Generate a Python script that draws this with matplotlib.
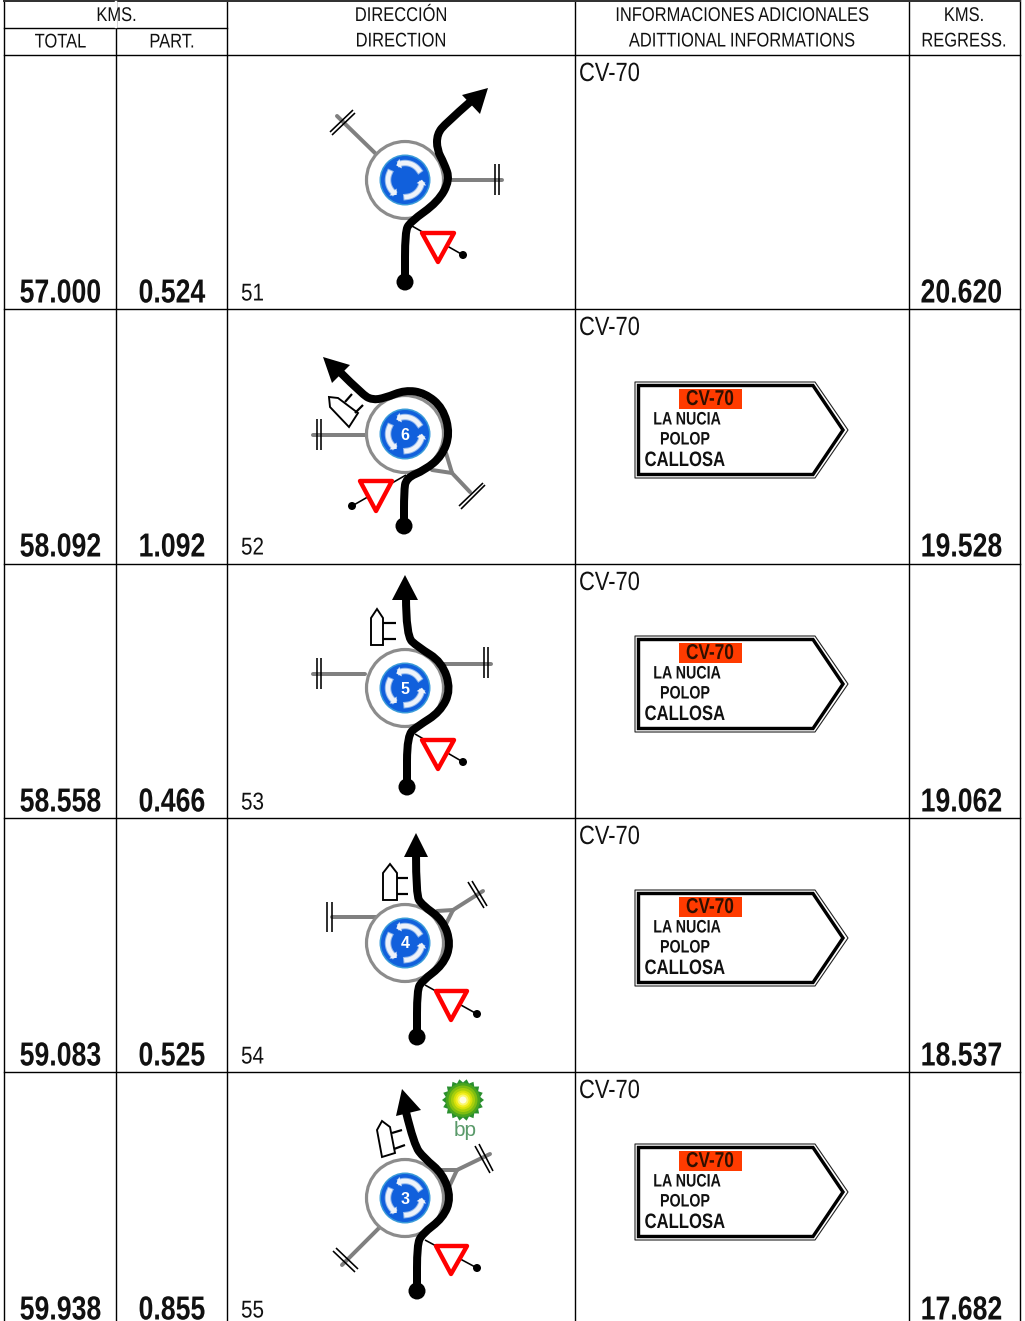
import numpy as np
import matplotlib
matplotlib.use('Agg')
import matplotlib.pyplot as plt
from matplotlib.path import Path
from matplotlib.patches import PathPatch, Circle, Polygon, Rectangle
from matplotlib.patheffects import AbstractPathEffect
from matplotlib.transforms import Affine2D

plt.rcParams['font.family'] = ['Liberation Sans', 'DejaVu Sans']

# Datos
kms_total = ['57.000', '58.092', '58.558', '59.083', '59.938']
kms_part = ['0.524', '1.092', '0.466', '0.525', '0.855']
kms_regress = ['20.620', '19.528', '19.062', '18.537', '17.682']
row_numbers = ['51', '52', '53', '54', '55']
disc_labels = ['', '6', '5', '4', '3']
road_name = 'CV-70'
sign_towns = ['LA NUCIA', 'POLOP', 'CALLOSA']
has_sign = [False, True, True, True, True]
sign_dy = [0, 0, 254, 508, 762]

col_x = [4, 116, 227, 575, 909, 1020]
row_y = [55, 309, 564, 818, 1072]
centers = [(405, 180), (405, 434), (405, 688), (405, 943), (405, 1198)]

# Trayectoria negra de cada glorieta
routes = [
    [(405, 282), (405, 232), (410, 222), (438, 202), (450, 180), (444, 163), (437, 150), (437, 134), (446, 123), (470, 102)],
    [(404, 526), (404, 492), (406, 478), (425, 470), (442, 456), (450, 434), (443, 408), (425, 393), (405, 390), (385, 398), (372, 400), (362, 394), (341, 373)],
    [(407, 787), (407, 735), (418, 726), (440, 712), (451, 690), (442, 662), (418, 647), (406, 636), (406, 596)],
    [(417, 1037), (417, 990), (422, 981), (443, 965), (451, 944), (443, 920), (422, 905), (416, 895), (416, 853)],
    [(417, 1291), (417, 1245), (422, 1234), (443, 1218), (451, 1198), (443, 1174), (424, 1158), (414, 1145), (406, 1112)],
]
arrowheads = [
    [(488, 88), (462, 95), (480, 114)],
    [(323, 357), (350, 365), (332, 383)],
    [(405, 575), (392, 600), (418, 600)],
    [(416, 833), (404, 857), (428, 857)],
    [(402, 1089), (396, 1116), (421, 1110)],
]
# Ramales grises
branches = [
    [[(337, 116), (376, 154)], [(450, 180), (502, 180)]],
    [[(313, 435), (367, 435)], [(470, 492), (452, 473)], [(452, 473), (432, 470)], [(452, 473), (446, 453)]],
    [[(313, 674), (365, 674)], [(443, 664), (491, 664)]],
    [[(332, 917), (377, 917)], [(483, 891), (453, 910)], [(453, 910), (437, 911)], [(453, 910), (445, 926)]],
    [[(342, 1265), (379, 1228)], [(490, 1154), (457, 1170)], [(457, 1170), (440, 1170)], [(457, 1170), (449, 1187)]],
]
# Dobles trazos al final de los ramales
ticks = [
    [[(330, 132), (353, 110)], [(332, 135), (355, 113)], [(495, 164), (495, 195)], [(499, 164), (499, 195)]],
    [[(317, 419), (317, 450)], [(321, 419), (321, 450)], [(459, 506), (483, 483)], [(461, 509), (485, 485)]],
    [[(317, 658), (317, 689)], [(321, 658), (321, 689)], [(484, 647), (484, 678)], [(488, 647), (488, 678)]],
    [[(327, 902), (327, 932)], [(332, 902), (332, 932)], [(468, 882), (484, 908)], [(472, 881), (487, 906)]],
    [[(333, 1251), (355, 1272)], [(336, 1248), (358, 1269)], [(475, 1146), (490, 1173)], [(479, 1144), (493, 1171)]],
]
yields = [
    [(422, 233), (454, 233), (438, 262)],
    [(360, 481), (392, 481), (376, 511)],
    [(422, 740), (454, 740), (438, 769)],
    [(436, 991), (467, 991), (451, 1020)],
    [(436, 1246), (467, 1246), (451, 1274)],
]
yield_lines = [
    [(412, 226), (463, 255)],
    [(406, 475), (352, 506)],
    [(415, 734), (463, 762)],
    [(425, 985), (477, 1014)],
    [(425, 1240), (477, 1268)],
]
buildings = [
    None,
    [(329, 397), (338, 398), (358, 413), (349, 427), (330, 407)],
    [(371, 645), (371, 618), (377, 609), (383, 618), (383, 645)],
    [(383, 900), (383, 873), (390, 864), (397, 873), (397, 900)],
    [(382, 1157), (377, 1130), (382, 1121), (390, 1127), (395, 1153)],
]
building_stubs = [
    [],
    [[(345, 402), (352, 394)], [(355, 413), (363, 405)]],
    [[(383, 623), (396, 623)], [(383, 639), (396, 639)]],
    [[(397, 878), (408, 878)], [(397, 894), (408, 894)]],
    [[(392, 1133), (402, 1130)], [(394, 1149), (405, 1145)]],
]

PX = 0.72  # puntos por pixel a dpi=100


class Condense(AbstractPathEffect):
    # estrecha el texto en horizontal: no hay Arial Narrow instalada
    def __init__(self, x0, sx):
        super().__init__()
        self.x0 = x0
        self.sx = sx

    def draw_path(self, renderer, gc, tpath, affine, rgbFace=None):
        squeeze = Affine2D().translate(-self.x0, 0).scale(self.sx, 1).translate(self.x0, 0)
        renderer.draw_path(gc, tpath, affine + squeeze, rgbFace)


def ntext(ax, x, y, s, sx=0.82, **kw):
    t = ax.text(x, y, s, **kw)
    t.set_path_effects([Condense(ax.transData.transform((x, y))[0], sx)])
    return t


def smooth_path(points):
    # curva cuadratica por los puntos medios
    pts = np.array(points, dtype=float)
    verts = [pts[0], (pts[0] + pts[1]) / 2]
    codes = [Path.MOVETO, Path.LINETO]
    for i in range(1, len(pts) - 1):
        end = (pts[i] + pts[i + 1]) / 2 if i < len(pts) - 2 else pts[i + 1]
        verts += [pts[i], end]
        codes += [Path.CURVE3, Path.CURVE3]
    return Path(verts, codes)


def line(ax, seg, color='black', width=1.5, z=3, cap='butt'):
    xs, ys = zip(*seg)
    ax.plot(xs, ys, color=color, lw=width * PX, zorder=z, solid_capstyle=cap)


def draw_disc(ax, cx, cy, label):
    ax.add_patch(Circle((cx, cy), 25.5, fc='#3a9bd8', ec='none', zorder=4))
    ax.add_patch(Circle((cx, cy), 24, fc='#1160dc', ec='none', zorder=4))
    # tres flechas blancas en sentido antihorario
    for t0, t1 in [(35, 105), (155, 225), (275, 345)]:
        t = np.radians(np.linspace(t0, t1, 30))
        ax.plot(cx + 17 * np.cos(t), cy - 17 * np.sin(t), color='#8fb6ec', lw=6.5 * PX, zorder=5)
        ax.plot(cx + 17 * np.cos(t), cy - 17 * np.sin(t), color='#eef3fa', lw=4.5 * PX, zorder=5)
        e = np.radians(t1)
        tip = np.radians(t1 + 16)
        head = [(cx + 12 * np.cos(e), cy - 12 * np.sin(e)),
                (cx + 22 * np.cos(e), cy - 22 * np.sin(e)),
                (cx + 17 * np.cos(tip), cy - 17 * np.sin(tip))]
        ax.add_patch(Polygon(head, closed=True, fc='#eef3fa', ec='none', zorder=5))
    if label:
        ax.text(cx, cy + 1, label, color='white', fontsize=11.5, fontweight='bold',
                ha='center', va='center', zorder=6)
    else:
        ax.add_patch(Circle((cx, cy), 10, fc='#1160dc', ec='none', zorder=6))


def draw_sign(ax, dy):
    outline = [(635, 382 + dy), (815, 382 + dy), (848, 430 + dy), (815, 478 + dy), (635, 478 + dy)]
    inner = [(638.5, 385.5 + dy), (813, 385.5 + dy), (843, 430 + dy), (813, 474.5 + dy), (638.5, 474.5 + dy)]
    ax.add_patch(Polygon(outline, closed=True, fc='white', ec='#222222', lw=1.1 * PX, joinstyle='round', zorder=3))
    ax.add_patch(Polygon(inner, closed=True, fc='white', ec='black', lw=3.4 * PX, joinstyle='miter', zorder=3))
    ax.add_patch(Rectangle((679, 389 + dy), 63, 20, fc='#ff3b00', ec='none', zorder=4))
    town = dict(fontweight='bold', ha='center', va='center', color='#111111', zorder=5)
    ntext(ax, 710, 399.5 + dy, road_name, sx=0.8, fontsize=15.5, fontweight='bold', color='#301000',
          ha='center', va='center', zorder=5)
    ntext(ax, 687, 420 + dy, sign_towns[0], sx=0.79, fontsize=13, **town)
    ntext(ax, 685, 440 + dy, sign_towns[1], sx=0.79, fontsize=13, **town)
    ntext(ax, 685, 460.5 + dy, sign_towns[2], sx=0.8, fontsize=15, **town)


def draw_bp(ax, cx, cy):
    angles = np.linspace(0, 2 * np.pi, 37)[:-1]
    radii = np.where(np.arange(36) % 2 == 0, 21, 17.5)
    star = np.c_[cx + radii * np.cos(angles), cy + radii * np.sin(angles)]
    ax.add_patch(Polygon(star, closed=True, fc='#2a8f2e', ec='none', zorder=3))
    ring_r = [17, 14.5, 12, 9.5, 7.5, 5.5, 3.5]
    ring_c = ['#4aa51e', '#7dbd12', '#a8cf0c', '#d6e00a', '#f2ee1e', '#fbf870', '#fffde0']
    for r, c in zip(ring_r, ring_c):
        ax.add_patch(Circle((cx, cy), r, fc=c, ec='none', zorder=3))
    ax.text(cx + 2, cy + 30, 'bp', color='#5a9a6a', fontsize=15, ha='center', va='center', zorder=3)


fig = plt.figure(figsize=(10.25, 13.21), dpi=100)
ax = fig.add_axes([0, 0, 1, 1])
ax.set_xlim(0, 1025)
ax.set_ylim(1321, 0)
ax.axis('off')

# Rejilla
for x in col_x:
    ax.plot([x, x], [0, 1321], color='black', lw=1.4 * PX, zorder=1)
ax.plot([col_x[0], col_x[-1]], [1, 1], color='#333333', lw=2 * PX, zorder=1)
ax.plot([col_x[0], col_x[2]], [28, 28], color='black', lw=1.4 * PX, zorder=1)
for y in row_y[:5]:
    ax.plot([col_x[0], col_x[-1]], [y, y], color='black', lw=1.4 * PX, zorder=1)
# el titulo KMS. ocupa dos columnas
ax.plot([col_x[1], col_x[1]], [2, 27], color='white', lw=2.4 * PX, zorder=1.5)

# Cabecera
head = dict(fontsize=14.3, ha='center', va='center', color='#111111')
ntext(ax, 116.5, 15.5, 'KMS.', sx=0.83, **head)
ntext(ax, 60.5, 42, 'TOTAL', sx=0.83, **head)
ntext(ax, 172, 42, 'PART.', sx=0.83, **head)
ntext(ax, 401, 15.5, 'DIRECCIÓN', sx=0.83, **head)
ntext(ax, 401, 41, 'DIRECTION', sx=0.83, **head)
ntext(ax, 742, 15.5, 'INFORMACIONES ADICIONALES', sx=0.83, **head)
ntext(ax, 742, 41, 'ADITTIONAL INFORMATIONS', sx=0.83, **head)
ntext(ax, 964, 15.5, 'KMS.', sx=0.83, **head)
ntext(ax, 964, 41, 'REGRESS.', sx=0.83, **head)

for i in range(5):
    top = row_y[i]
    base = top + 247.5
    big = dict(sx=0.8, fontsize=24, fontweight='bold', ha='center', va='baseline', color='#111111')
    ntext(ax, 60.5, base, kms_total[i], **big)
    ntext(ax, 172, base, kms_part[i], **big)
    ntext(ax, 961.5, base, kms_regress[i], **big)
    ntext(ax, 241, top + 245.5, row_numbers[i], sx=0.85, fontsize=17.5, ha='left', va='baseline', color='#111111')
    ntext(ax, 579, top + 26, road_name, sx=0.83, fontsize=19, ha='left', va='baseline', color='#111111')

    cx, cy = centers[i]
    for seg in branches[i]:
        line(ax, seg, color='#808080', width=4, z=2, cap='round')
    for seg in ticks[i]:
        line(ax, seg, color='black', width=1.6, z=2.5)
    ax.add_patch(Circle((cx, cy), 38.5, fc='white', ec='#8c8c8c', lw=3.2 * PX, zorder=2.2))
    draw_disc(ax, cx, cy, disc_labels[i])

    line(ax, yield_lines[i], color='black', width=1.6, z=2.6)
    ax.add_patch(Circle(yield_lines[i][1], 4, fc='black', ec='none', zorder=2.6))
    ax.add_patch(Polygon(yields[i], closed=True, fc='white', ec='#ff0000', lw=4.4 * PX,
                         joinstyle='round', zorder=3))

    if buildings[i] is not None:
        ax.add_patch(Polygon(buildings[i], closed=True, fc='white', ec='black', lw=1.9 * PX, zorder=3))
        for seg in building_stubs[i]:
            line(ax, seg, color='black', width=2.2, z=3)

    ax.add_patch(PathPatch(smooth_path(routes[i]), fc='none', ec='black', lw=8 * PX,
                           capstyle='butt', joinstyle='round', zorder=7))
    ax.add_patch(Polygon(arrowheads[i], closed=True, fc='black', ec='none', zorder=7))
    ax.add_patch(Circle(routes[i][0], 8.5, fc='black', ec='none', zorder=7))

    if has_sign[i]:
        draw_sign(ax, sign_dy[i])

draw_bp(ax, 463, 1100)

fig.savefig('out.png', dpi=100)
